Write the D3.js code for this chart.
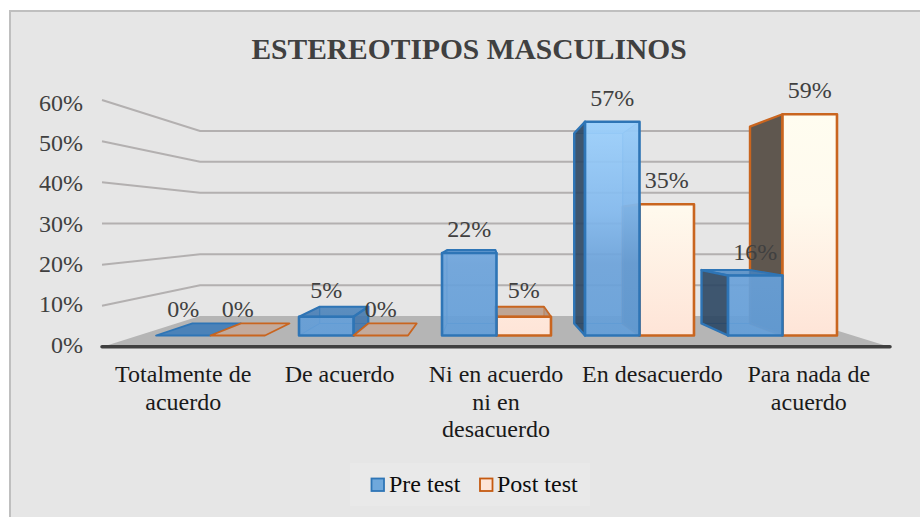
<!DOCTYPE html>
<html>
<head>
<meta charset="utf-8">
<script src="https://cdn.jsdelivr.net/npm/d3@7"></script>
<style>
html, body { margin: 0; padding: 0; background: #fff; }
svg { display: block; }
text { font-family: "Liberation Serif", serif; }
</style>
</head>
<body>
<div id="container"></div>
<script>
/* Data */
var categories = ["Totalmente de acuerdo", "De acuerdo", "Ni en acuerdo ni en desacuerdo", "En desacuerdo", "Para nada de acuerdo"];
var categoryLines = [["Totalmente de", "acuerdo"], ["De acuerdo"], ["Ni en acuerdo", "ni en", "desacuerdo"], ["En desacuerdo"], ["Para nada de", "acuerdo"]];
var seriesNames = ["Pre test", "Post test"];
var preTest = [0, 5, 22, 57, 16];
var postTest = [0, 0, 5, 35, 59];
var ticks = [0, 10, 20, 30, 40, 50, 60];

var w = 920, h = 517;

var svg = d3.select("#container").append("svg")
	.attr("width", w)
	.attr("height", h);

/* Gradients */
var defs = svg.append("defs");
function gradient(id, stops) {
	var g = defs.append("linearGradient").attr("id", id)
		.attr("gradientUnits", "userSpaceOnUse")
		.attr("x1", 0).attr("y1", 110).attr("x2", 0).attr("y2", 336);
	stops.forEach(function(s) {
		g.append("stop").attr("offset", s[0]).attr("stop-color", s[1]);
	});
}
gradient("preFront", [[0, "#a0d4ff"], [0.45, "#82b9ee"], [0.68, "#6ba2da"], [1, "#639ed8"]]);
gradient("postFront", [[0, "#fffdf0"], [0.42, "#fffaee"], [1, "#fee4d7"]]);
gradient("preTop", [[0, "#8cc6f8"], [0.5, "#5f9bd6"], [1, "#3f78b0"]]);

/* Frame */
svg.append("rect")
	.attr("x", 10).attr("y", 11)
	.attr("width", w - 10).attr("height", h - 11)
	.attr("fill", "#e6e6e6");
svg.append("path")
	.attr("d", "M10,517V11H920")
	.attr("fill", "none")
	.attr("stroke", "#bfbfbf")
	.attr("stroke-width", 2);

/* Scales */
var wallY = d3.scaleLinear().domain([0, 60]).range([347, 100]);   // front edge of side wall
var backY = d3.scaleLinear().domain([0, 60]).range([316, 131]);   // back wall
var tickY = d3.scaleLinear().domain([0, 60]).range([345, 103]);   // axis labels sit a bit apart from the wall lines
var barY = d3.scaleLinear().domain([0, 60]).range([335.5, 110.5]); // front face of bars
var labelX = d3.scaleBand().domain(categories).range([105, 887]);
var groupX = d3.scaleBand().domain(categories).range([139, 854]).paddingInner(0.238).paddingOuter(0.119);
var seriesX = d3.scaleBand().domain(seriesNames).range([0, groupX.bandwidth()]);

/* Perspective: front point goes toward vanishing point for the depth of a bar */
var vx = 487, vy = 226, depth = 0.89;
function back(x, y) {
	return [vx + (x - vx) * depth, vy + (y - vy) * depth];
}

/* Floor and walls */
svg.append("polygon")
	.attr("points", [[102, 347], [200, 316], [790, 316], [890, 347]].join(" "))
	.attr("fill", "#b5b5b5");

var grid = svg.append("g");
grid.selectAll("path")
	.data(ticks.filter(d => d > 0))
	.join("path")
	.attr("d", d => "M102," + wallY(d) + "L200," + backY(d) + "H790")
	.attr("fill", "none")
	.attr("stroke", "#b3b0b0")
	.attr("stroke-width", 2);

svg.append("line")
	.attr("x1", 102).attr("x2", 890)
	.attr("y1", 346.8).attr("y2", 346.8)
	.attr("stroke", "#404040")
	.attr("stroke-width", 3.5)
	.attr("stroke-linecap", "round");

/* Y axis labels */
var yAxis = d3.axisLeft(tickY)
	.tickValues(ticks)
	.tickSize(0)
	.tickPadding(0)
	.tickFormat(d => d + "%");
svg.append("g")
	.attr("transform", "translate(83,0)")
	.call(yAxis)
	.call(g => g.select(".domain").remove())
	.selectAll("text")
	.attr("dy", "0.3em")
	.style("font-size", "24px")
	.style("font-family", '"Liberation Serif", serif')
	.attr("fill", "#404040");

/* X axis labels */
var xAxis = d3.axisBottom(labelX).tickSize(0);
svg.append("g")
	.attr("transform", "translate(0,347)")
	.call(xAxis)
	.call(g => g.select(".domain").remove())
	.selectAll("text")
	.style("font-size", "24px")
	.style("font-family", '"Liberation Serif", serif')
	.attr("fill", "#1a1a1a")
	.each(function(d, i) {
		var t = d3.select(this).text(null).attr("y", 0).attr("dy", null);
		categoryLines[i].forEach(function(line, j) {
			t.append("tspan").attr("x", 0).attr("y", 35 + j * 27.7).text(line);
		});
	});

/* Bars */
var styles = {
	"Pre test": {
		stroke: "#2e75b6", front: "url(#preFront)", frontOp: 0.9, backFill: "#6ea6dc", backOp: 0.2,
		sideOut: "#2a435f", sideOutOp: 0.88, sideIn: "#3f74aa", sideInOp: 0.85, sideThru: "#3f74aa", sideThruOp: 0.22,
		top: "url(#preTop)", topOp: 0.85, floor: "#3f7cb8"
	},
	"Post test": {
		stroke: "#c9651f", front: "url(#postFront)", frontOp: 1, backFill: "#fde5d8", backOp: 0.4,
		sideOut: "#5f574f", sideOutOp: 1, sideIn: "#a98c7a", sideInOp: 0.8, sideThru: "#a98c7a", sideThruOp: 0.2,
		top: "#bfa594", topOp: 1, floor: "#c4a999"
	}
};

function poly(g, pts, fill, op, stroke, sw) {
	g.append("polygon")
		.attr("points", pts.join(" "))
		.attr("fill", fill)
		.attr("fill-opacity", op)
		.attr("stroke", stroke)
		.attr("stroke-width", sw)
		.attr("stroke-linejoin", "round");
}

function drawBar(g, name, cat, val) {
	var s = styles[name];
	var x0 = groupX(cat) + seriesX(name), x1 = x0 + seriesX.bandwidth();
	var yB = barY(0), yT = barY(val);
	var fl = [x0, yB], fr = [x1, yB], tl = [x0, yT], tr = [x1, yT];
	var bfl = back(x0, yB), bfr = back(x1, yB), btl = back(x0, yT), btr = back(x1, yT);

	if (val === 0) { // empty bar is only a flat outline
		poly(g, [fl, fr, bfr, bfl], s.floor, 0.9, s.stroke, 1.8);
		return;
	}
	poly(g, [btl, btr, bfr, bfl], s.backFill, s.backOp, s.stroke, 0.6);
	poly(g, [fl, fr, bfr, bfl], s.backFill, 0.3, s.stroke, 0.6);

	// top: only seen from above when it is under the eye line, else through the front
	if (btl[1] < yT) poly(g, [tl, tr, btr, btl], s.top, s.topOp, s.stroke, 2);
	else if (s.frontOp < 1) poly(g, [tl, tr, btr, btl], s.top, 0.5, s.stroke, 0.6);

	// left side
	if (bfl[0] < x0) poly(g, [tl, btl, bfl, fl], s.sideOut, s.sideOutOp, s.stroke, 2.4);
	else poly(g, [tl, btl, bfl, fl], s.sideThru, s.sideThruOp, s.stroke, 0.5);
	// right side
	if (bfr[0] > x1) poly(g, [tr, btr, bfr, fr], s.sideIn, s.sideInOp, s.stroke, 2.4);
	else poly(g, [tr, btr, bfr, fr], s.sideThru, s.sideThruOp + 0.25, s.stroke, 0.5);
	poly(g, [tl, tr, fr, fl], s.front, s.frontOp, s.stroke, 2.6);
}

var bars = svg.append("g");
categories.forEach(function(cat, i) {
	if (postTest[i] === 0) {
		drawBar(bars, "Pre test", cat, preTest[i]);
		drawBar(bars, "Post test", cat, postTest[i]);
	} else {
		drawBar(bars, "Post test", cat, postTest[i]);
		drawBar(bars, "Pre test", cat, preTest[i]);
	}
});

/* Value labels */
function addLabels(name, values) {
	svg.append("g").selectAll("text")
		.data(values)
		.join("text")
		.attr("x", (d, i) => groupX(categories[i]) + seriesX(name) + seriesX.bandwidth() / 2)
		.attr("y", d => barY(d) - (d <= 5 ? 19 : 16))
		.attr("text-anchor", "middle")
		.attr("fill", "#404040")
		.style("font-size", "24px")
		.text(d => d + "%");
}
addLabels("Pre test", preTest);
addLabels("Post test", postTest);

/* Title */
svg.append("text")
	.attr("x", 469).attr("y", 59)
	.attr("text-anchor", "middle")
	.attr("fill", "#404040")
	.style("font-size", "29.5px")
	.style("font-weight", "bold")
	.text("ESTEREOTIPOS MASCULINOS");

/* Legend */
svg.append("rect")
	.attr("x", 350).attr("y", 463)
	.attr("width", 240).attr("height", 43)
	.attr("fill", "#e9e9e9");
var legendX = [371.5, 480];
var legendTextX = [389, 497];
seriesNames.forEach(function(name, i) {
	svg.append("rect")
		.attr("x", legendX[i]).attr("y", 478.5)
		.attr("width", 12.5).attr("height", 12.5)
		.attr("fill", i === 0 ? "#6fa8dc" : "#fde5d8")
		.attr("stroke", i === 0 ? "#2e75b6" : "#c55a11")
		.attr("stroke-width", 1.8);
	svg.append("text")
		.attr("x", legendTextX[i]).attr("y", 492)
		.attr("fill", "#0d0d0d")
		.style("font-size", "24px")
		.text(name);
});
</script>
</body>
</html>
